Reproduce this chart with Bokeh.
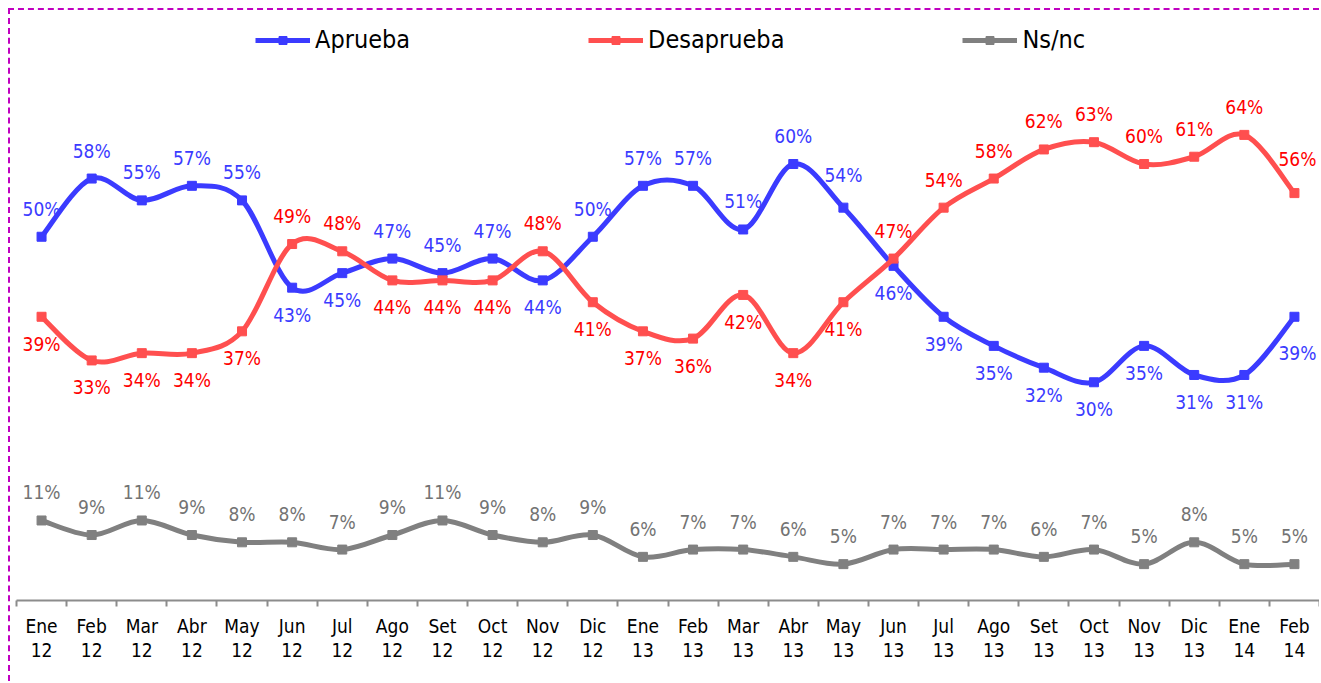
from bokeh.plotting import figure
from bokeh.models import FixedTicker, Legend, LegendItem, ColumnDataSource, Range1d
from bokeh.core.properties import value
from bokeh.embed import file_html
from bokeh.resources import INLINE

# ---------------- data ----------------
categorias = ["Ene 12", "Feb 12", "Mar 12", "Abr 12", "May 12", "Jun 12", "Jul 12",
              "Ago 12", "Set 12", "Oct 12", "Nov 12", "Dic 12", "Ene 13", "Feb 13",
              "Mar 13", "Abr 13", "May 13", "Jun 13", "Jul 13", "Ago 13", "Set 13",
              "Oct 13", "Nov 13", "Dic 13", "Ene 14", "Feb 14"]
aprueba = [50, 58, 55, 57, 55, 43, 45, 47, 45, 47, 44, 50, 57, 57, 51, 60, 54, 46,
           39, 35, 32, 30, 35, 31, 31, 39]
desaprueba = [39, 33, 34, 34, 37, 49, 48, 44, 44, 44, 48, 41, 37, 36, 42, 34, 41, 47,
              54, 58, 62, 63, 60, 61, 64, 56]
nsnc = [11, 9, 11, 9, 8, 8, 7, 9, 11, 9, 8, 9, 6, 7, 7, 6, 5, 7, 7, 7, 6, 7, 5, 8, 5, 5]

# label placement (a = above, b = below)
pos_aprueba = "aaaaabbaaabaaaaaabbbbbbbbb"
pos_desaprueba = "bbbbbaabbbabbbbbbaaaaaaaaa"
pos_nsnc = "a" * 26

FONT = "DejaVu Sans Condensed"

series = [
    ("Aprueba", aprueba, pos_aprueba, "#3b3bff", "#3b3bff"),
    ("Desaprueba", desaprueba, pos_desaprueba, "#ff4f4f", "#ff0000"),
    ("Ns/nc", nsnc, pos_nsnc, "#808080", "#737373"),
]

p = figure(width=1311, height=673, x_range=Range1d(-0.5, 25.5), y_range=Range1d(0, 80),
           output_backend="svg", toolbar_location=None, y_axis_location=None,
           min_border_left=6, min_border_right=2, min_border_top=8, min_border_bottom=83)
p.outline_line_color = None
p.xgrid.visible = False
p.ygrid.visible = False
p.styles = {"margin-left": "8px", "margin-top": "8px",
            "border-left": "2px dashed #c000c0", "border-top": "2px dashed #c000c0"}

ax = p.xaxis[0]
ax.ticker = FixedTicker(ticks=list(range(len(categorias))),
                        minor_ticks=[i - 0.5 for i in range(len(categorias) + 1)])
ax.major_label_overrides = {i: c.replace(" ", "\n") for i, c in enumerate(categorias)}
ax.major_tick_line_color = None
ax.major_tick_out = 0
ax.major_tick_in = 0
ax.minor_tick_line_color = "#8c8c8c"
ax.minor_tick_line_width = 2
ax.minor_tick_out = 6
ax.minor_tick_in = 0
ax.axis_line_color = "#8c8c8c"
ax.axis_line_width = 2
ax.major_label_text_font = FONT
ax.major_label_text_font_size = "19px"
ax.major_label_text_color = "black"
ax.major_label_text_line_height = 1.12
ax.major_label_standoff = 8

legend_items = []
for key, vals, posn, lcol, tcol in series:
    n = len(vals)
    xs = list(range(n))
    x0, y0, x1, y1, cx0, cy0, cx1, cy1 = [], [], [], [], [], [], [], []
    for i in range(n - 1):
        a = i - 1 if i > 0 else i
        d = i + 2 if i + 2 < n else i + 1
        x0.append(xs[i]); y0.append(vals[i])
        x1.append(xs[i + 1]); y1.append(vals[i + 1])
        cx0.append(xs[i] + (xs[i + 1] - xs[a]) / 6.0)
        cy0.append(vals[i] + (vals[i + 1] - vals[a]) / 6.0)
        cx1.append(xs[i + 1] - (xs[d] - xs[i]) / 6.0)
        cy1.append(vals[i + 1] - (vals[d] - vals[i]) / 6.0)
    p.bezier(x0=x0, y0=y0, x1=x1, y1=y1, cx0=cx0, cy0=cy0, cx1=cx1, cy1=cy1,
             line_color=lcol, line_width=5, line_cap="round")
    leg_line = p.line(xs, vals, line_color=lcol, line_width=5, visible=False)
    sc = p.scatter(xs, vals, marker="square", size=9, fill_color=lcol, line_color=lcol)
    legend_items.append(LegendItem(label=key, renderers=[leg_line, sc]))

    xo, yo = [], []
    for i in range(n):
        xo.append(0)
        yo.append(-28 if posn[i] == "a" else 27)
    if key == "Aprueba":
        xo[-1] = 3; yo[-1] = 36
        yo[16] = -33
    if key == "Desaprueba":
        xo[-1] = 3; yo[-1] = -34
    src = ColumnDataSource(dict(x=xs, y=vals, t=[f"{v}%" for v in vals], xo=xo, yo=yo))
    p.text(x="x", y="y", text="t", x_offset="xo", y_offset="yo", source=src,
           text_align="center", text_baseline="middle", text_color=tcol,
           text_font=value(FONT), text_font_size="19px")

legend = Legend(items=legend_items, orientation="horizontal", location=(239, 546),
                spacing=178, glyph_width=55, glyph_height=20, label_standoff=5,
                padding=0, margin=0, border_line_color=None, background_fill_alpha=0,
                label_text_font=FONT, label_text_font_size="25px", label_height=20,
                label_text_color="black")
p.add_layout(legend)

open("out.html", "w").write(file_html(p, INLINE))
